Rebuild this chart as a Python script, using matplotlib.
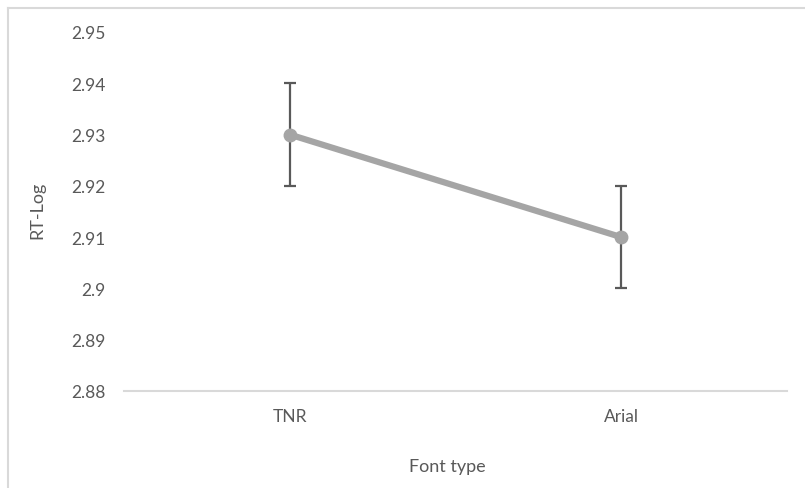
import matplotlib
matplotlib.use("Agg")
import matplotlib.pyplot as plt
from matplotlib.lines import Line2D
from matplotlib.ticker import FixedLocator, FuncFormatter

# Data
categories = ["TNR", "Arial"]
rt_log = [2.93, 2.91]
rt_err = [0.01, 0.01]
y_ticks = [2.88, 2.89, 2.90, 2.91, 2.92, 2.93, 2.94, 2.95]

W, H = 805, 489
plt.rcParams["font.family"] = ["Lato", "DejaVu Sans"]

fig = plt.figure(figsize=(W / 100, H / 100), dpi=100)
fig.patch.set_facecolor("white")

# Chart-area border (only left and top visible in the crop)
border = "#d9d9d9"
fig.add_artist(Line2D([8 / W, 8 / W], [0, 1 - 9 / H], color=border, lw=1.5))
fig.add_artist(Line2D([8 / W, 1], [1 - 9 / H, 1 - 9 / H], color=border, lw=1.5))

left, right, top, bottom = 124, 787, 33, 392
ax = fig.add_axes([left / W, 1 - bottom / H, (right - left) / W, (bottom - top) / H])

x = range(len(categories))
ax.errorbar(x, rt_log, yerr=rt_err, color="#a5a5a5", lw=4.5,
            marker="o", ms=9, ecolor="#595959", elinewidth=1.6,
            capsize=4, capthick=1.6, zorder=3)

ax.set_xlim(-0.5, len(categories) - 0.5)
ax.set_ylim(y_ticks[0], y_ticks[-1])
ax.set_xticks(list(x))
ax.set_xticklabels(categories)
ax.yaxis.set_major_locator(FixedLocator(y_ticks))
ax.yaxis.set_major_formatter(FuncFormatter(lambda v, p: f"{v:.2f}".rstrip("0")))

for side in ("left", "right", "top"):
    ax.spines[side].set_visible(False)
ax.spines["bottom"].set_color(border)
ax.spines["bottom"].set_linewidth(1.5)
ax.tick_params(axis="both", length=0, labelsize=12.5, labelcolor="#595959")
ax.tick_params(axis="y", pad=13)
ax.tick_params(axis="x", pad=12)

ax.set_xlabel("Font type", fontsize=13, color="#595959")
ax.xaxis.set_label_coords((447.5 - left) / (right - left), (bottom - 459) / (bottom - top))
ax.xaxis.label.set_va("top")
ax.set_ylabel("RT-Log", fontsize=13, color="#595959")
ax.yaxis.set_label_coords((45 - left) / (right - left), (bottom - 210) / (bottom - top))

fig.savefig("out.png", dpi=100, facecolor="white")
